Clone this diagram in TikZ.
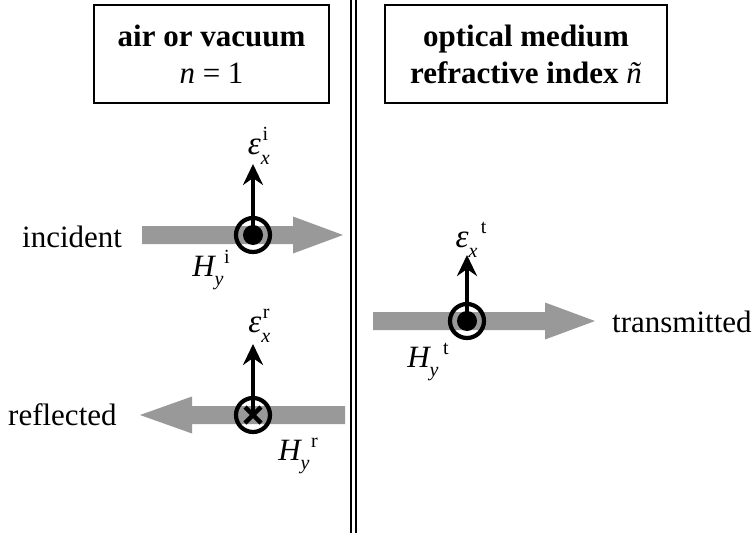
\documentclass[tikz,border=0pt]{standalone}
\usepackage{fontspec}
\setmainfont{Liberation Serif}
\usetikzlibrary{arrows.meta}
\newcommand\fld[4]{{\itshape #1}\raisebox{-0.3em}{\fontsize{20}{20}\selectfont\itshape #2}\hspace{#4}\raisebox{0.42em}{\fontsize{20}{20}\selectfont #3}}
\definecolor{arrowgray}{gray}{0.6}
\tikzset{
  lab/.style={font=\fontsize{31}{38}\selectfont, inner sep=0pt},
  elab/.style={font=\fontsize{33}{38}\selectfont, inner sep=0pt},
  mediumbox/.style={draw, line width=1.6pt, font=\fontsize{31}{38}\selectfont, align=center, inner sep=0pt},
  ring/.style={circle, draw, line width=4.2pt, minimum size=34pt, inner sep=0pt},
  earrow/.style={line width=4.5pt, -{Stealth[length=21pt,width=20pt,inset=7pt]}},
  wall/.style={line width=2pt}
}
\newcommand\garrow[4]{% shaft start, head base, tip, y
  \fill[arrowgray] (#1,#4-9) -- (#2,#4-9) -- (#2,#4-18.5) -- (#3,#4) -- (#2,#4+18.5) -- (#2,#4+9) -- (#1,#4+9) -- cycle;}
\begin{document}
\begin{tikzpicture}[x=1pt,y=-1pt]
\useasboundingbox (0,0) rectangle (755,535);
% interface
\coordinate (w1t) at (351,0); \coordinate (w1b) at (351,533);
\coordinate (w2t) at (356,0); \coordinate (w2b) at (356,533);
\draw[wall] (w1t) -- (w1b);
\draw[wall] (w2t) -- (w2b);
% boxes
\node[mediumbox, minimum width=235pt, minimum height=98pt] (air) at (211.5,54) {\textbf{air or vacuum}\\[-1pt] \textit{n} = 1};
\node[mediumbox, minimum width=282pt, minimum height=98pt] (med) at (526,54) {\textbf{optical medium}\\[-1pt] \textbf{refractive index} \textit{ñ}};
% gray arrows
\garrow{142}{293}{343}{235}
\garrow{345}{192}{140}{415}
\garrow{373}{545}{595}{321}
% incident
\node[ring] (ci) at (253,235) {};
\fill (ci.center) circle (10pt);
\coordinate (ei) at (253,164);
\draw[earrow] (ci.center) -- (ei);
\node[elab] (lei) at (258,146) {\fld{ε}{x}{i}{-0.22em}};
\node[lab] (lhi) at (211,270) {\fld{H}{y}{i}{0.02em}};
\node[lab, anchor=base west] (tinc) at (22,247) {incident};
% reflected
\node[ring] (cr) at (253,415) {};
\coordinate (er) at (253,344);
\draw[earrow] (cr.center) -- (er);
\draw[line width=4.5pt] (245,407) -- (261,423);
\draw[line width=4.5pt] (261,407) -- (245,423);
\node[elab] (ler) at (259,326) {\fld{ε}{x}{r}{-0.22em}};
\node[lab] (lhr) at (298,456) {\fld{H}{y}{r}{0.05em}};
\node[lab, anchor=base west] (tref) at (8,425) {reflected};
% transmitted
\node[ring] (ct) at (467,321) {};
\fill (ct.center) circle (10pt);
\coordinate (et) at (467,255);
\draw[earrow] (ct.center) -- (et);
\node[elab] (let) at (471,240) {\fld{ε}{x}{t}{0.1em}};
\node[lab] (lht) at (428,362) {\fld{H}{y}{t}{0.15em}};
\node[lab, anchor=base west] (ttr) at (612,332) {transmitted};
\end{tikzpicture}
\end{document}
